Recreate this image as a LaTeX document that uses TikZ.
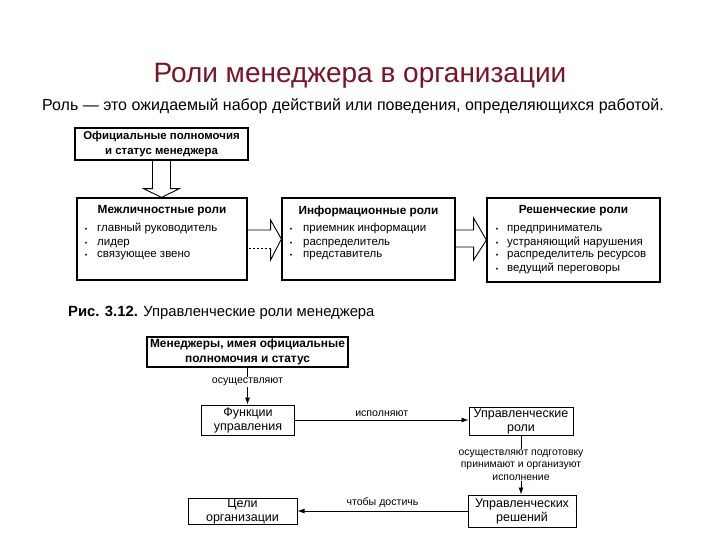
\documentclass[tikz,border=0pt]{standalone}
\usepackage{fontspec}
\setmainfont{Liberation Sans}
\usetikzlibrary{arrows.meta,calc}
\definecolor{titlered}{HTML}{7A1526}
\begin{document}
\begin{tikzpicture}[x=1pt,y=-1pt,
  box/.style={draw, line width=1.2pt, inner sep=0pt, align=center},
  head/.style={inner sep=0pt, font=\fontsize{11.8}{14.5}\selectfont\bfseries},
  item/.style={anchor=base west, inner sep=0pt, font=\fontsize{11.5}{12}\selectfont},
  bul/.style={anchor=base, inner sep=0pt, font=\fontsize{7}{8}\selectfont},
  hollow/.style={line width=0.9pt, line join=miter},
  conn/.style={line width=0.8pt, -{Latex[length=7pt,width=5pt]}},
  small/.style={inner sep=1pt, font=\fontsize{10.6}{12}\selectfont, align=center},
  plain/.style={font=\fontsize{12.5}{14}\selectfont}]
\useasboundingbox (0,0) rectangle (720,540);

% title
\node[titlered, anchor=base, inner sep=0pt, font=\fontsize{28}{30}\selectfont] (title) at (360,83) {Роли менеджера в организации};
\node[anchor=base west, inner sep=0pt, font=\fontsize{16}{18}\selectfont] (sub) at (42,111) {Роль — это ожидаемый набор действий или поведения, определяющихся работой.};

% top scheme
\node[box, head, font=\fontsize{11.4}{14.5}\selectfont\bfseries, minimum width=173, minimum height=32] (b1) at (161.5,144) {Официальные полномочия\\и статус менеджера};

\node[box, minimum width=170, minimum height=82] (b2) at (162,239) {};
\node[head] (h2) at (162,211) {Межличностные роли};
\node[bul] (b2d1) at (86,232) {•};
\node[item] (b2i1) at (97,232) {главный руководитель};
\node[bul] (b2d2) at (86,245) {•};
\node[item] (b2i2) at (97,245) {лидер};
\node[bul] (b2d3) at (86,258) {•};
\node[item] (b2i3) at (97,258) {связующее звено};

\node[box, minimum width=173, minimum height=82] (b3) at (368.5,239) {};
\node[head] (h3) at (368.5,211) {Информационные роли};
\node[bul] (b3d1) at (291,232) {•};
\node[item] (b3i1) at (303,232) {приемник информации};
\node[bul] (b3d2) at (291,245) {•};
\node[item] (b3i2) at (303,245) {распределитель};
\node[bul] (b3d3) at (291,258) {•};
\node[item] (b3i3) at (303,258) {представитель};

\node[box, minimum width=173, minimum height=84] (b4) at (573.5,240) {};
\node[head] (h4) at (573.5,211) {Решенческие роли};
\node[bul] (b4d1) at (497,232) {•};
\node[item] (b4i1) at (507,232) {предприниматель};
\node[bul] (b4d2) at (497,245) {•};
\node[item] (b4i2) at (507,245) {устраняющий нарушения};
\node[bul] (b4d3) at (497,258) {•};
\node[item] (b4i3) at (507,258) {распределитель ресурсов};
\node[bul] (b4d4) at (497,271) {•};
\node[item] (b4i4) at (507,271) {ведущий переговоры};

% hollow arrows
\draw[hollow] ($(b1.south)+(-9,0)$) -- ($(b1.south)+(-9,28)$) -- ($(b1.south)+(-18,28)$)
  -- (b1.south |- b2.north) -- ($(b1.south)+(18,28)$) -- ($(b1.south)+(9,28)$) -- ($(b1.south)+(9,0)$);

\draw[hollow] ($(b2.east)+(0,-9)$) -- ($(b2.east)+(23,-9)$) -- ($(b2.east)+(23,-19)$)
  -- (b3.west) -- ($(b2.east)+(23,21)$) -- ($(b2.east)+(23,9)$);
\draw[hollow, dash pattern=on 2pt off 2pt] ($(b2.east)+(23,9)$) -- ($(b2.east)+(0,9)$);

\draw[hollow] ($(b3.east)+(0,-9)$) -- ($(b3.east)+(18,-9)$) -- ($(b3.east)+(18,-21)$)
  -- (b4.west) -- ($(b3.east)+(18,21)$) -- ($(b3.east)+(18,8)$) -- ($(b3.east)+(0,8)$);

% caption
\node[anchor=base west, inner sep=0pt, font=\fontsize{14.8}{16}\selectfont] (cap) at (68,316) {\textbf{Рис. 3.12.} Управленческие роли менеджера};

% bottom scheme
\node[box, head, font=\fontsize{11.9}{14.5}\selectfont\bfseries, minimum width=201, minimum height=30] (b5) at (247.5,352) {Менеджеры, имея официальные\\полномочия и статус};
\node[box, plain, line width=1pt, minimum width=93, minimum height=30] (b6) at (248,420) {Функции\\управления};
\node[box, plain, line width=1pt, minimum width=104, minimum height=28] (b7) at (521,421) {Управленческие\\роли};
\node[box, plain, line width=1pt, minimum width=108, minimum height=32] (b8) at (522,511) {Управленческих\\решений};
\node[box, plain, line width=1pt, minimum width=109, minimum height=26] (b9) at (242.5,511) {Цели\\организации};

\draw[conn] (b5.south) -- (b5.south |- b6.north)
  node[pos=0.38, fill=white, small] (l1) {осуществляют};
\draw[conn] (b6.east) -- (b6.east -| b7.west)
  node[midway, above=2pt, small] (l2) {исполняют};
\draw[conn] (b7.south) -- (b7.south |- b8.north)
  node[midway, fill=white, small, font=\fontsize{10.4}{12.5}\selectfont] (l3) {осуществляют подготовку\\принимают и организуют\\исполнение};
\draw[conn] (b8.west) -- (b8.west -| b9.east)
  node[midway, above=2pt, small] (l4) {чтобы достичь};
\end{tikzpicture}
\end{document}
